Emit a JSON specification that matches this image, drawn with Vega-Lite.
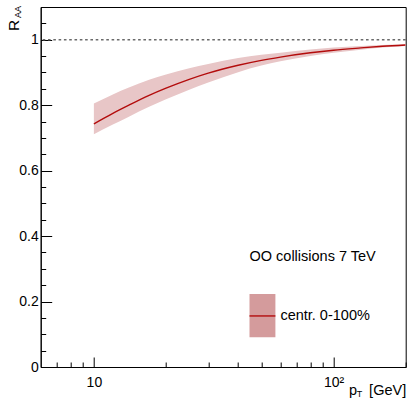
{
  "$schema": "https://vega.github.io/schema/vega-lite/v6.json",
  "width": 365,
  "height": 360,
  "autosize": {"type": "none"},
  "padding": {"left": 40.7, "top": 7, "right": 1.3, "bottom": 36},
  "background": "white",
  "config": {
    "font": "Liberation Sans",
    "view": {"stroke": "black", "strokeWidth": 1},
    "axis": {
      "grid": false,
      "domainColor": "black",
      "tickColor": "black",
      "labelColor": "black",
      "titleColor": "black",
      "labelFont": "Liberation Sans",
      "titleFont": "Liberation Sans",
      "labelFontSize": 14,
      "titleFontWeight": "normal"
    },
    "text": {"font": "Liberation Sans", "fontSize": 14.5, "color": "black"}
  },
  "data": {
    "values": [
      {"pt": 10, "lo": 0.711, "mid": 0.743, "hi": 0.805},
      {"pt": 12, "lo": 0.741, "mid": 0.775, "hi": 0.833},
      {"pt": 14, "lo": 0.765, "mid": 0.800, "hi": 0.854},
      {"pt": 17, "lo": 0.795, "mid": 0.830, "hi": 0.878},
      {"pt": 20, "lo": 0.818, "mid": 0.852, "hi": 0.894},
      {"pt": 25, "lo": 0.847, "mid": 0.879, "hi": 0.913},
      {"pt": 30, "lo": 0.869, "mid": 0.898, "hi": 0.926},
      {"pt": 40, "lo": 0.901, "mid": 0.922, "hi": 0.944},
      {"pt": 50, "lo": 0.921, "mid": 0.937, "hi": 0.954},
      {"pt": 60, "lo": 0.934, "mid": 0.947, "hi": 0.960},
      {"pt": 80, "lo": 0.950, "mid": 0.960, "hi": 0.970},
      {"pt": 100, "lo": 0.960, "mid": 0.968, "hi": 0.976},
      {"pt": 130, "lo": 0.969, "mid": 0.975, "hi": 0.981},
      {"pt": 160, "lo": 0.976, "mid": 0.980, "hi": 0.984},
      {"pt": 200, "lo": 0.981, "mid": 0.984, "hi": 0.987}
    ]
  },
  "layer": [
    {
      "mark": {"type": "area", "color": "#e8c6c7", "opacity": 1, "interpolate": "monotone", "clip": true},
      "encoding": {
        "x": {
          "field": "pt", "type": "quantitative",
          "scale": {"type": "log", "domain": [6, 200], "nice": false},
          "axis": {
            "orient": "bottom",
            "values": [7, 8, 9, 10, 20, 30, 40, 50, 60, 70, 80, 90, 100, 200],
            "labelExpr": "datum.value == 10 ? '10' : datum.value == 100 ? '10²' : ''",
            "tickSize": {"condition": {"test": "datum.value == 10 || datum.value == 100", "value": -10}, "value": -5},
            "labelPadding": 18.5,
            "labelFlush": false,
            "labelOverlap": false,
            "title": "p\u00a0\u00a0\u00a0[GeV]",
            "titleFontSize": 14.5,
            "titleAnchor": "end",
            "titleAlign": "right",
            "titleBaseline": "alphabetic",
            "titleX": 365,
            "titleY": 27
          }
        },
        "y": {
          "field": "lo", "type": "quantitative",
          "scale": {"domain": [0, 1.1], "nice": false, "zero": false},
          "axis": {
            "orient": "left",
            "values": [0, 0.05, 0.1, 0.15, 0.2, 0.25, 0.3, 0.35, 0.4, 0.45, 0.5, 0.55, 0.6, 0.65, 0.7, 0.75, 0.8, 0.85, 0.9, 0.95, 1, 1.05, 1.1],
            "labelExpr": "abs(datum.value * 5 - round(datum.value * 5)) < 0.001 ? format(datum.value, '~g') : ''",
            "tickSize": {"condition": {"test": "abs(datum.value * 5 - round(datum.value * 5)) < 0.001", "value": -11}, "value": -5},
            "labelPadding": 13.5,
            "labelOverlap": false,
            "title": null
          }
        },
        "y2": {"field": "hi"}
      }
    },
    {
      "mark": {"type": "line", "color": "#b30c0c", "strokeWidth": 1.4, "interpolate": "monotone", "clip": true},
      "encoding": {
        "x": {"field": "pt", "type": "quantitative", "axis": null},
        "y": {"field": "mid", "type": "quantitative", "axis": null}
      }
    },
    {
      "data": {"values": [{}]},
      "mark": {"type": "rule", "color": "#6a6a6a", "strokeWidth": 1.6, "strokeDash": [2.6, 2.7]},
      "encoding": {
        "y": {"datum": 1, "type": "quantitative", "axis": null}
      }
    },
    {
      "data": {"values": [{}]},
      "mark": {"type": "text", "align": "left", "baseline": "middle", "text": "OO collisions 7 TeV"},
      "encoding": {
        "x": {
          "datum": 44.6, "type": "quantitative",
          "axis": {
            "orient": "bottom", "domain": false, "ticks": false, "labels": false,
            "title": "T", "titleFontSize": 9,
            "titleAlign": "left", "titleBaseline": "alphabetic",
            "titleX": 315.5, "titleY": 29.5
          }
        },
        "y": {"datum": 0.337, "type": "quantitative", "axis": null}
      }
    },
    {
      "data": {"values": [{}]},
      "mark": {"type": "text", "align": "left", "baseline": "alphabetic", "angle": 270, "fontSize": 15.4, "text": "R", "clip": false},
      "encoding": {
        "x": {"datum": 4.886, "type": "quantitative", "axis": null},
        "y": {"datum": 1.0267, "type": "quantitative", "axis": null}
      }
    },
    {
      "data": {"values": [{}]},
      "mark": {"type": "text", "align": "left", "baseline": "alphabetic", "angle": 270, "fontSize": 9, "text": "AA", "clip": false},
      "encoding": {
        "x": {"datum": 4.952, "type": "quantitative", "axis": null},
        "y": {"datum": 1.0664, "type": "quantitative", "axis": null}
      }
    },
    {
      "data": {"values": [{}]},
      "mark": {"type": "rect", "color": "#d49b9c"},
      "encoding": {
        "x": {"datum": 44.6, "type": "quantitative", "axis": null},
        "x2": {"datum": 57.2},
        "y": {"datum": 0.091, "type": "quantitative", "axis": null},
        "y2": {"datum": 0.223}
      }
    },
    {
      "data": {"values": [{}]},
      "mark": {"type": "rule", "color": "#b30c0c", "strokeWidth": 1.4},
      "encoding": {
        "x": {"datum": 44.6, "type": "quantitative", "axis": null},
        "x2": {"datum": 57.2},
        "y": {"datum": 0.156, "type": "quantitative", "axis": null}
      }
    },
    {
      "data": {"values": [{}]},
      "mark": {"type": "text", "align": "left", "baseline": "middle", "text": "centr. 0-100%"},
      "encoding": {
        "x": {"datum": 60, "type": "quantitative", "axis": null},
        "y": {"datum": 0.156, "type": "quantitative", "axis": null}
      }
    }
  ],
  "resolve": {"axis": {"x": "independent", "y": "independent"}}
}
